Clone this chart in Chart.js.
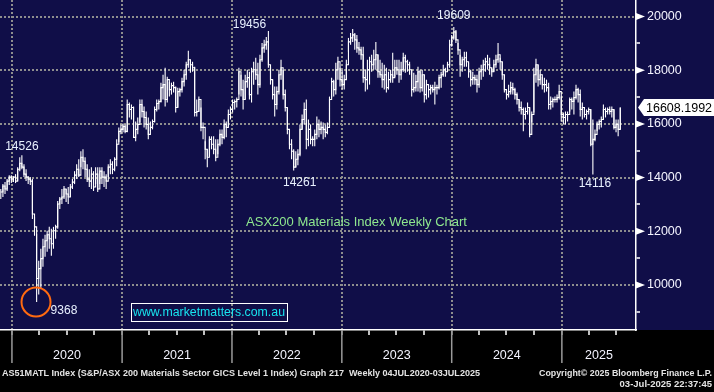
<!DOCTYPE html>
<html>
<head>
<meta charset="utf-8">
<title>ASX200 Materials Index Weekly Chart</title>
<script src="https://cdn.jsdelivr.net/npm/chart.js@4.4.1/dist/chart.umd.min.js"></script>
<style>
  html, body { margin: 0; padding: 0; background: #000; }
</style>
</head>
<body>
<canvas id="materialsChart" width="714" height="392"></canvas>
<script>
// -----------------data: AS51MATL weekly bars-----------------
const firstWeek = Date.UTC(2019, 10, 25); // week 0
const highs = [
  13573, 13759, 13833, 13944, 14092, 14092, 14055, 14129, 14389, 14759,
  14833, 14500, 14314, 14055, 14018, 13944, 12537, 11907, 10907, 11351,
  11721, 11870, 12018, 12166, 12092, 12166, 12240, 13129, 13277, 13573,
  13685, 13573, 13648, 13759, 13944, 14240, 14500, 14685, 14981, 15055,
  14759, 14500, 14314, 14389, 14240, 14389, 14389, 14389, 14389, 14240,
  14129, 14500, 14685, 14611, 14759, 15425, 15870, 15981, 16018, 15981,
  16907, 16796, 16722, 16648, 16092, 16240, 16907, 16907, 16648, 16463,
  16240, 16092, 16166, 16648, 16907, 16907, 17537, 17833, 18092, 17759,
  17574, 17537, 17574, 17389, 17351, 17351, 17722, 18018, 18315, 18722,
  18389, 18315, 18129, 16907, 17018, 16611, 16055, 15351, 15055, 15537,
  15537, 15537, 15425, 15425, 15796, 15796, 16166, 16092, 16537, 16648,
  16907, 16907, 16981, 18092, 17833, 17648, 17833, 18018, 17944, 18092,
  18315, 18463, 18277, 18574, 19018, 19130, 19240, 19456, 18129, 17648,
  17389, 17389, 18018, 18389, 18018, 17277, 16611, 15685, 15425, 15055,
  14981, 15055, 15981, 16351, 16796, 16907, 16166, 15981, 15537, 15796,
  16277, 16166, 16092, 16055, 15981, 16055, 17018, 17722, 17648, 18277,
  18500, 18092, 18018, 17833, 18389, 19203, 19389, 19537, 19389, 19315,
  19055, 18870, 18870, 18018, 18389, 18500, 18574, 18759, 19055, 18574,
  18389, 18277, 18204, 18092, 17944, 18018, 18648, 18389, 18389, 18389,
  18315, 18648, 18574, 18389, 18315, 18018, 17907, 17833, 18129, 18018,
  18018, 17833, 17648, 17463, 17463, 17463, 17574, 17463, 17833, 17944,
  18204, 18092, 18315, 19130, 19315, 19609, 19500, 19018, 18574, 18500,
  18685, 18685, 18277, 18018, 17944, 17833, 17833, 18092, 18204, 18389,
  18463, 18574, 18463, 18092, 18389, 18574, 19018, 18463, 18315, 17833,
  17277, 17463, 17574, 17537, 17351, 17166, 16907, 16833, 16611, 16611,
  16796, 16611, 16463, 18092, 18426, 18204, 18018, 17759, 17722, 17648,
  17537, 17018, 16981, 17018, 17092, 17463, 17018, 16426, 16463, 16463,
  16981, 16981, 17203, 17463, 17351, 17277, 16796, 16611, 16537, 16611,
  16537, 16166, 15796, 16092, 16166, 16277, 16722, 16611, 16611, 16648,
  16648, 16537, 16166, 16166, 16611,
];
const lows = [
  13203, 13277, 13388, 13500, 13722, 13796, 13833, 13796, 13870, 14240,
  14314, 14018, 13870, 13759, 13722, 12462, 11833, 9368, 9647, 9869,
  10684, 11055, 11240, 11351, 11092, 11351, 11721, 12092, 12833, 13018,
  13203, 13092, 13018, 13277, 13573, 13759, 13944, 14018, 14389, 14314,
  14018, 13833, 13648, 13573, 13500, 13759, 13462, 13759, 13759, 13648,
  13573, 14018, 14129, 14129, 14240, 14425, 15314, 15611, 15685, 15648,
  15685, 16240, 16166, 15500, 15351, 15611, 16055, 16240, 15870, 15796,
  15425, 15722, 15796, 16055, 16463, 16537, 16796, 16907, 16648, 16796,
  17018, 17092, 17166, 16425, 16611, 17018, 17166, 17389, 17648, 18092,
  17907, 17944, 16277, 16277, 16463, 15722, 15425, 14685, 14389, 14796,
  15055, 14870, 14611, 14870, 15166, 15240, 15425, 15500, 15907, 16166,
  16426, 16537, 16611, 17092, 17018, 16537, 16907, 17351, 16907, 16796,
  17463, 17648, 17092, 17351, 18315, 18648, 18759, 18092, 17463, 16907,
  16277, 16537, 17092, 17648, 16907, 16463, 15611, 15055, 14685, 14261,
  14389, 14463, 14796, 15796, 15981, 15055, 15166, 15240, 15166, 15166,
  15425, 15500, 15611, 15425, 15500, 15611, 15907, 16981, 17018, 17092,
  17648, 17389, 17277, 17277, 17648, 18685, 18944, 19055, 18759, 18648,
  18574, 18389, 17537, 17203, 17277, 17463, 17944, 18018, 18018, 17722,
  17722, 17351, 17277, 17166, 17277, 17537, 17537, 17759, 17833, 17537,
  17648, 17944, 17907, 17944, 17833, 17018, 17166, 17203, 17203, 17166,
  17203, 16796, 16907, 16981, 17092, 17166, 16722, 17092, 17277, 17351,
  17759, 17759, 18018, 18092, 18870, 19130, 19018, 18574, 17759, 17944,
  18129, 18129, 17722, 17389, 17463, 17463, 17166, 17351, 17648, 17759,
  17944, 18018, 17833, 17759, 17944, 18092, 18277, 18018, 17648, 17166,
  16907, 16981, 17092, 17092, 16907, 16722, 16463, 16351, 15722, 16166,
  16351, 15500, 16055, 16426, 17537, 17389, 17463, 17277, 17166, 17203,
  16537, 16537, 16611, 16796, 16796, 16907, 16092, 15981, 15981, 16092,
  16463, 16537, 16351, 16907, 16796, 16277, 16166, 16240, 16166, 16351,
  15166, 14116, 15351, 15722, 15796, 15870, 16166, 16240, 16351, 16351,
  16240, 15796, 15685, 15537, 15796,
];
const closes = [
  13462, 13685, 13573, 13870, 14018, 13944, 14018, 13870, 14314, 14537,
  14389, 14129, 14018, 13944, 13870, 12647, 12166, 10240, 10610, 10981,
  11425, 11647, 11870, 11721, 11536, 12018, 12166, 13018, 13203, 13277,
  13573, 13388, 13277, 13648, 13833, 14092, 14314, 14092, 14759, 14611,
  14314, 13944, 13870, 14129, 13648, 14129, 13573, 14240, 14018, 14018,
  13870, 14389, 14500, 14314, 14685, 15240, 15722, 15796, 15907, 15722,
  16722, 16537, 16611, 15500, 15796, 15981, 16722, 16463, 16240, 15981,
  15611, 15870, 16092, 16537, 16759, 16833, 17351, 17463, 16907, 17648,
  17277, 17426, 17351, 16611, 17203, 17277, 17574, 17833, 18204, 18389,
  18204, 18092, 16426, 16463, 16907, 15870, 15870, 15055, 14759, 15425,
  15240, 15055, 14759, 15240, 15611, 15500, 15981, 15870, 16351, 16537,
  16796, 16833, 16907, 17944, 17277, 16907, 17574, 17722, 17092, 17944,
  18018, 17833, 17463, 18389, 18833, 18944, 19055, 18204, 17648, 17092,
  16722, 17203, 17833, 18092, 17092, 16611, 15796, 15240, 14981, 14389,
  14685, 14870, 15796, 16166, 16537, 15425, 15796, 15425, 15425, 15611,
  15981, 15796, 15870, 15796, 15685, 15870, 16907, 17574, 17277, 18018,
  18315, 17648, 17463, 17648, 18204, 19055, 19203, 19315, 19130, 18833,
  18759, 18574, 17722, 17648, 18018, 18315, 18204, 18389, 18574, 17944,
  17833, 17648, 17833, 17351, 17648, 17833, 17722, 18092, 18018, 17833,
  18018, 18463, 18315, 18204, 18018, 17277, 17351, 17574, 17944, 17351,
  17833, 17092, 17463, 17277, 17351, 17277, 17351, 17351, 17722, 17833,
  18018, 17944, 18204, 18944, 19203, 19426, 19130, 18759, 18204, 18389,
  18463, 18315, 17944, 17648, 17722, 17648, 17463, 17944, 18018, 18204,
  18315, 18204, 18092, 17944, 18204, 18389, 18574, 18315, 17833, 17277,
  17092, 17203, 17351, 17277, 17092, 16907, 16611, 16537, 16351, 16463,
  16611, 15611, 16351, 17833, 18204, 17648, 17833, 17463, 17463, 17351,
  16722, 16833, 16907, 16907, 16981, 17203, 16351, 16240, 16351, 16351,
  16907, 16833, 16981, 17277, 17092, 16537, 16611, 16351, 16463, 16537,
  15240, 15425, 15611, 15981, 16092, 16166, 16537, 16463, 16537, 16463,
  16537, 15870, 15981, 15796, 16608,
];
const lastPrice = "16608.1992";
const yearLabels = ["2020", "2021", "2022", "2023", "2024", "2025"];
const priceTicks = [10000, 12000, 14000, 16000, 18000, 20000];
// week index + which end of the bar each call-out belongs to
const calloutText = ["14526", "19456", "14261", "19609", "14116", "9368"];
const calloutWeek = [10, 127, 139, 215, 281, 17];
const calloutEnd = ["high", "high", "low", "high", "low", "low"];

// -----------------styling-----------------
const navy = "#100e48";
const gridGrey = "#8e8e8e";
const sans = "'Liberation Sans', Arial, sans-serif";
const xMin = -0.38;
const xMax = 301.47;
const calloutOffset = [[0, -9], [-19, -6], [6, 12.5], [0, -11], [2, 9.5], [14, 9]];

const weekOf = (y, m) => (Date.UTC(y, m, 1) - firstWeek) / (7 * 864e5);

const ranges = highs.map((h, i) => ({ x: i, y: [lows[i], h] }));
const closeLine = closes.map((c, i) => ({ x: i, y: c }));

const overlay = {
  id: "overlay",
  beforeDraw(chart) {
    const c = chart.ctx;
    c.save();
    c.fillStyle = "#000";
    c.fillRect(0, 0, chart.width, chart.height);
    c.fillStyle = navy;
    c.fillRect(0, 0, chart.width, chart.scales.x.top);
    c.restore();
  },
  afterDraw(chart) {
    const c = chart.ctx;
    const xs = chart.scales.x;
    const ys = chart.scales.y;
    c.save();

    // long year ticks + year labels under the axis
    c.strokeStyle = "#9a9a9a";
    c.lineWidth = 1.5;
    yearLabels.forEach((lab, k) => {
      const y0 = +lab;
      const px = xs.getPixelForValue(weekOf(y0, 0));
      c.beginPath();
      c.moveTo(px, xs.top);
      c.lineTo(px, xs.top + 33);
      c.stroke();
      const end = Math.min(weekOf(y0 + 1, 0), xMax);
      c.fillStyle = "#f4f4ff";
      c.font = "12.5px " + sans;
      c.textAlign = "center";
      c.textBaseline = "middle";
      c.fillText(lab, (px + xs.getPixelForValue(end)) / 2, 356);
    });

    // arrows on the price axis
    c.fillStyle = "#fff";
    priceTicks.forEach((v) => {
      const py = ys.getPixelForValue(v);
      c.beginPath();
      c.moveTo(ys.left, py - 3.5);
      c.lineTo(ys.left + 9, py);
      c.lineTo(ys.left, py + 3.5);
      c.closePath();
      c.fill();
    });

    // last price flag
    const lp = ys.getPixelForValue(closes[closes.length - 1]);
    c.beginPath();
    c.moveTo(ys.left + 2, lp);
    c.lineTo(ys.left + 8, lp - 8.5);
    c.lineTo(chart.width, lp - 8.5);
    c.lineTo(chart.width, lp + 8.5);
    c.lineTo(ys.left + 8, lp + 8.5);
    c.closePath();
    c.fill();
    c.fillStyle = "#000";
    c.font = "12.5px " + sans;
    c.textAlign = "left";
    c.textBaseline = "middle";
    c.fillText(lastPrice, ys.left + 10, lp + 0.5);

    // call-outs
    c.fillStyle = "#e8f0ff";
    c.font = "12px " + sans;
    c.textAlign = "center";
    calloutText.forEach((t, k) => {
      const w = calloutWeek[k];
      const v = calloutEnd[k] === "high" ? highs[w] : lows[w];
      const px = xs.getPixelForValue(w) + calloutOffset[k][0];
      const py = ys.getPixelForValue(v) + calloutOffset[k][1];
      if (k === 5) {
        c.textAlign = "left";
      }
      c.fillText(t, px, py);
    });

    // orange ring round the covid low
    const lx = xs.getPixelForValue(17) - 0.6;
    const ly = ys.getPixelForValue(lows[17]);
    c.strokeStyle = "#ff6a10";
    c.lineWidth = 2;
    c.beginPath();
    c.arc(lx, ly, 14.5, 0, Math.PI * 2);
    c.stroke();

    // chart caption
    c.fillStyle = "#8fe88f";
    c.font = "13px " + sans;
    c.textAlign = "center";
    c.fillText("ASX200 Materials Index Weekly Chart", 356.5, 222);

    // website box
    c.strokeStyle = "#fff";
    c.lineWidth = 1;
    c.strokeRect(131.5, 303.5, 156, 18);
    c.fillStyle = "#18e4ee";
    c.font = "12.5px " + sans;
    c.textAlign = "left";
    c.fillText("www.marketmatters.com.au", 133, 313, 152);

    // footer
    c.fillStyle = "#e4e4e4";
    c.font = "bold 9.5px " + sans;
    c.textAlign = "left";
    c.fillText(
      "AS51MATL Index (S&P/ASX 200 Materials Sector GICS Level 1 Index) Graph 217  Weekly 04JUL2020-03JUL2025",
      2, 373, 478
    );
    c.textAlign = "right";
    c.fillText("Copyright\u00a9 2025 Bloomberg Finance L.P.", 712, 373, 173);
    c.fillText("03-Jul-2025 22:37:45", 712, 384, 94);
    c.restore();
  },
};

// -----------------chart-----------------
const ctx = document.getElementById("materialsChart").getContext("2d");
const chart = new Chart(ctx, {
  type: "bar",
  data: {
    datasets: [
      {
        type: "bar",
        data: ranges,
        backgroundColor: "#fff",
        barThickness: 1.1,
        inflateAmount: 0,
        order: 2,
      },
      {
        type: "line",
        data: closeLine,
        borderColor: "#fff",
        borderWidth: 1.1,
        stepped: true,
        pointRadius: 0,
        order: 1,
      },
    ],
  },
  options: {
    responsive: false,
    animation: false,
    layout: { padding: 0 },
    plugins: {
      legend: { display: false },
      tooltip: { enabled: false },
    },
    scales: {
      x: {
        type: "linear",
        min: xMin,
        max: xMax,
        offset: false,
        afterBuildTicks: (s) => {
          const t = [];
          for (let y = 2020; y <= 2025; y++) {
            [0, 3, 6, 9].forEach((m) => {
              const w = weekOf(y, m);
              if (w <= xMax) t.push({ value: w, year: m === 0 });
            });
          }
          s.ticks = t;
        },
        ticks: { display: false },
        grid: {
          offset: false,
          color: (c) => (c.tick && c.tick.year ? gridGrey : "transparent"),
          lineWidth: 2,
          tickLength: 5,
          tickWidth: 1.5,
          tickColor: (c) => (c.tick && c.tick.year ? "#9a9a9a" : "#fff"),
        },
        border: { color: "#fff", width: 1.5, dash: [2, 2] },
        afterFit: (s) => {
          s.height = 62;
          s.paddingLeft = 0;
          s.paddingRight = 0;
        },
      },
      y: {
        position: "right",
        min: 8324,
        max: 20615,
        afterBuildTicks: (s) => {
          const t = [];
          for (let v = 9000; v <= 20000; v += 1000) {
            t.push({ value: v, big: priceTicks.includes(v) });
          }
          s.ticks = t;
        },
        ticks: {
          color: "#f4f4ff",
          padding: 7,
          autoSkip: false,
          font: { family: sans, size: 12.5 },
          callback: (v) => (priceTicks.includes(v) ? String(v) : ""),
        },
        grid: {
          color: (c) => (c.tick && c.tick.big ? gridGrey : "transparent"),
          lineWidth: 2,
          tickLength: 4,
          tickWidth: 1.5,
          tickColor: (c) => (c.tick && c.tick.big ? "transparent" : "#fff"),
        },
        border: { color: "#fff", width: 1.5, dash: [2, 2] },
        afterFit: (s) => {
          s.width = 78;
          s.paddingTop = 0;
          s.paddingBottom = 0;
        },
      },
    },
  },
  plugins: [overlay],
});
</script>
</body>
</html>
